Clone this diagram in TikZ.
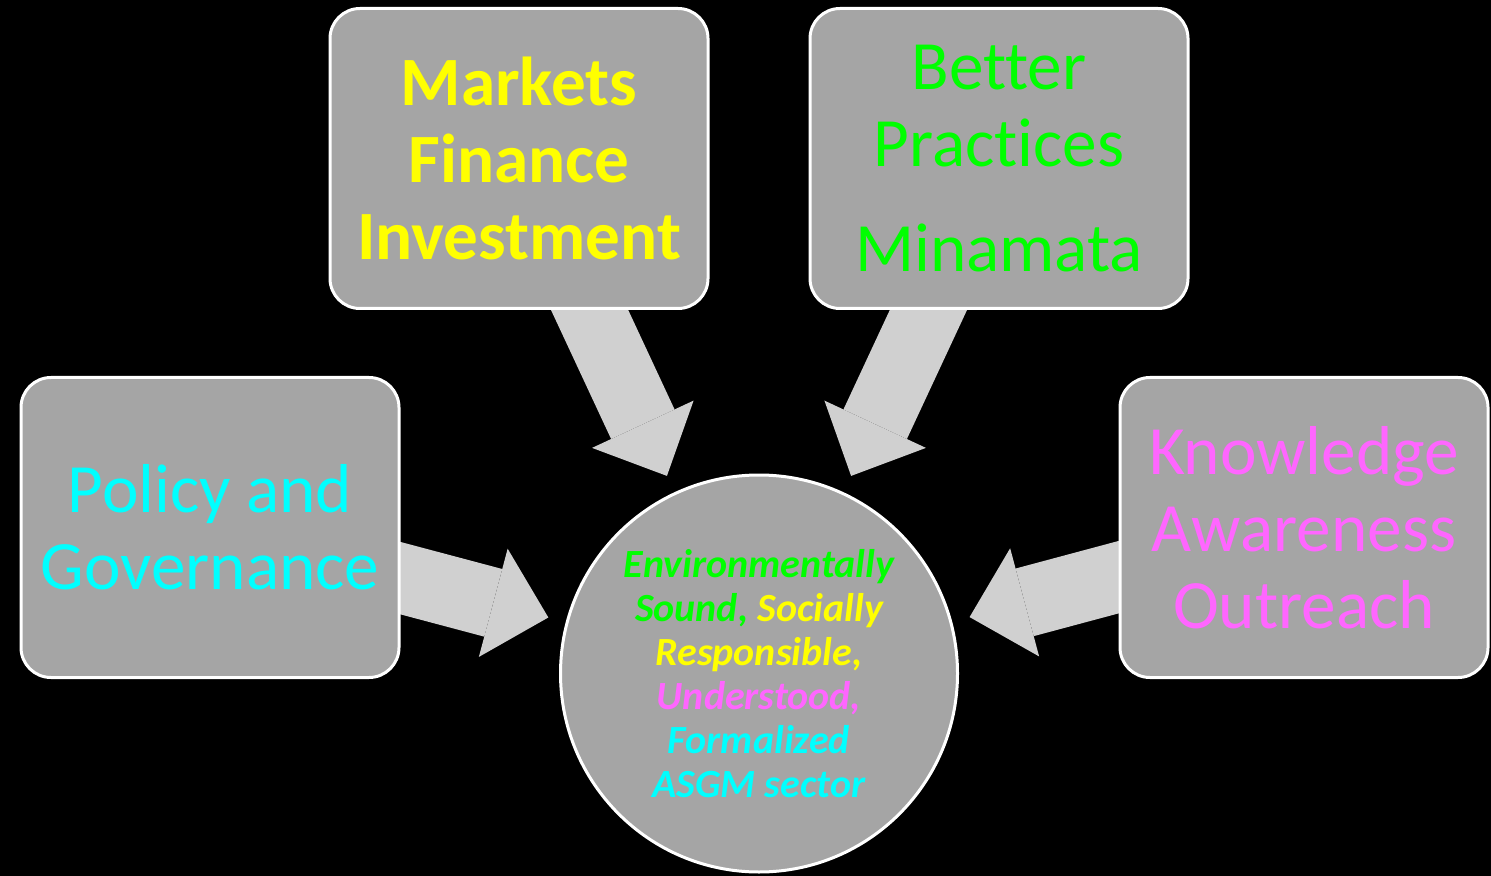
\documentclass[tikz,border=0pt]{standalone}
\usepackage{fontspec}
\setmainfont{Carlito}[Ligatures=CommonOff]
\usetikzlibrary{arrows.meta}

\definecolor{tilegray}{HTML}{A5A5A5}
\definecolor{flowgray}{HTML}{D0D0D0}
\definecolor{ngreen}{HTML}{00FF00}
\definecolor{nyellow}{HTML}{FFFF00}
\definecolor{ncyan}{HTML}{00FFFF}
\definecolor{npink}{HTML}{FF66FF}

\newcommand{\tilefont}{\fontsize{34.6}{38.5}\selectfont}
\newcommand{\hubfont}{\fontsize{20}{22}\selectfont\bfseries\itshape}

\pgfdeclarelayer{bg}
\pgfsetlayers{bg,main}

\begin{document}
\begin{tikzpicture}[x=0.5pt, y=-0.5pt,
    tile/.style={draw=white, line width=1.5pt, fill=tilegray, rounded corners=15pt,
        minimum width=189pt, minimum height=150pt, inner sep=0pt, align=center, font=\tilefont},
    hub/.style={circle, draw=white, line width=1.5pt, fill=tilegray,
        minimum size=198.5pt, inner sep=0pt, align=center, font=\hubfont},
    flow/.style={draw=flowgray, line width=35pt,
        -{Triangle[width=56pt, length=28.5pt, line width=0pt]}, shorten >=9pt}
]
    % Four topic boxes
    \node[tile, text=nyellow, font=\tilefont\bfseries] (markets) at (519, 158.5)
        {Markets\\Finance\\Investment};
    \node[tile, text=ngreen] (practices) at (999, 158.5)
        {Better\\Practices\\[14pt]Minamata};
    \node[tile, text=ncyan] (policy) at (210, 527.5)
        {Policy and\\Governance};
    \node[tile, text=npink, minimum width=184pt] (outreach) at (1304, 527.5)
        {Knowledge\\Awareness\\Outreach};

    % Goal in the middle
    \node[hub] (goal) at (759, 673.5)
        {\textcolor{ngreen}{Environmentally}\\
         \textcolor{ngreen}{Sound,} \textcolor{nyellow}{Socially}\\
         \textcolor{nyellow}{Responsible,}\\
         \textcolor{npink}{Understood,}\\
         \textcolor{ncyan}{Formalized}\\
         \textcolor{ncyan}{ASGM sector}};

    % Background and block arrows
    \begin{pgfonlayer}{bg}
        \fill[black] (0,0) rectangle (1491,876);
        \draw[flow] (markets.center) -- (goal);
        \draw[flow] (practices.center) -- (goal);
        \draw[flow] (policy.center) -- (goal);
        \draw[flow] (outreach.center) -- (goal);
    \end{pgfonlayer}
\end{tikzpicture}
\end{document}
